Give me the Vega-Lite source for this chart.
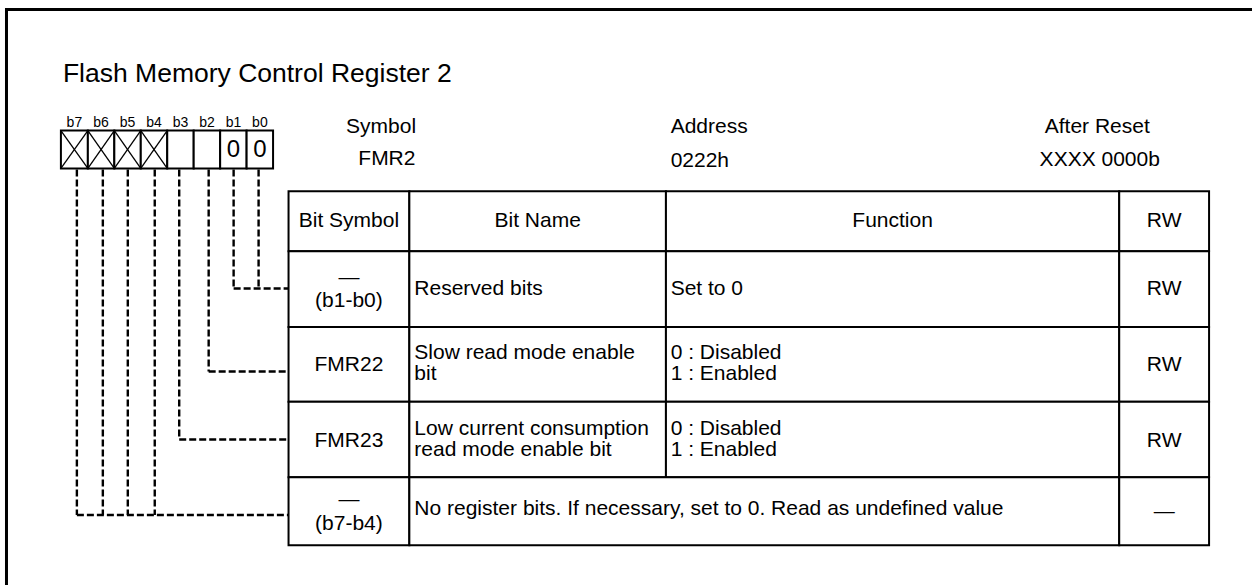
{
  "$schema": "https://vega.github.io/schema/vega-lite/v6.json",
  "autosize": {"type": "fit", "contains": "padding"},
  "width": 1254,
  "height": 587,
  "padding": 0,
  "background": "white",
  "config": {"view": {"stroke": null}, "text": {"font": "Liberation Sans", "color": "black"}},
  "datasets": {
    "frame": [
      {"x": 6.5, "y": 9.5, "x2": 1254, "y2": 9.5},
      {"x": 6.5, "y": 8, "x2": 6.5, "y2": 587}
    ],
    "cells": [
      {"x": 289, "x2": 410, "y": 192, "y2": 252},
      {"x": 410, "x2": 667, "y": 192, "y2": 252},
      {"x": 667, "x2": 1121, "y": 192, "y2": 252},
      {"x": 1121, "x2": 1211, "y": 192, "y2": 252},
      {"x": 289, "x2": 410, "y": 252, "y2": 328},
      {"x": 410, "x2": 667, "y": 252, "y2": 328},
      {"x": 667, "x2": 1121, "y": 252, "y2": 328},
      {"x": 1121, "x2": 1211, "y": 252, "y2": 328},
      {"x": 289, "x2": 410, "y": 328, "y2": 403},
      {"x": 410, "x2": 667, "y": 328, "y2": 403},
      {"x": 667, "x2": 1121, "y": 328, "y2": 403},
      {"x": 1121, "x2": 1211, "y": 328, "y2": 403},
      {"x": 289, "x2": 410, "y": 403, "y2": 479},
      {"x": 410, "x2": 667, "y": 403, "y2": 479},
      {"x": 667, "x2": 1121, "y": 403, "y2": 479},
      {"x": 1121, "x2": 1211, "y": 403, "y2": 479},
      {"x": 289, "x2": 410, "y": 479, "y2": 547},
      {"x": 410, "x2": 1121, "y": 479, "y2": 547},
      {"x": 1121, "x2": 1211, "y": 479, "y2": 547},
      {"x": 61, "x2": 88, "y": 131, "y2": 169},
      {"x": 88, "x2": 114.5, "y": 131, "y2": 169},
      {"x": 114.5, "x2": 141, "y": 131, "y2": 169},
      {"x": 141, "x2": 167.5, "y": 131, "y2": 169},
      {"x": 167.5, "x2": 194, "y": 131, "y2": 169},
      {"x": 194, "x2": 220.5, "y": 131, "y2": 169},
      {"x": 220.5, "x2": 247, "y": 131, "y2": 169},
      {"x": 247, "x2": 273.5, "y": 131, "y2": 169}
    ],
    "diagonals": [
      {"x": 61, "y": 131, "x2": 88, "y2": 169},
      {"x": 61, "y": 169, "x2": 88, "y2": 131},
      {"x": 88, "y": 131, "x2": 114.5, "y2": 169},
      {"x": 88, "y": 169, "x2": 114.5, "y2": 131},
      {"x": 114.5, "y": 131, "x2": 141, "y2": 169},
      {"x": 114.5, "y": 169, "x2": 141, "y2": 131},
      {"x": 141, "y": 131, "x2": 167.5, "y2": 169},
      {"x": 141, "y": 169, "x2": 167.5, "y2": 131}
    ],
    "dashes": [
      {"x": 259, "y": 170, "x2": 259, "y2": 289.5},
      {"x": 234, "y": 170, "x2": 234, "y2": 289.5},
      {"x": 234, "y": 289.5, "x2": 289, "y2": 289.5},
      {"x": 209, "y": 170, "x2": 209, "y2": 372.7},
      {"x": 209, "y": 372.7, "x2": 289, "y2": 372.7},
      {"x": 179.5, "y": 170, "x2": 179.5, "y2": 441},
      {"x": 179.5, "y": 441, "x2": 289, "y2": 441},
      {"x": 155, "y": 170, "x2": 155, "y2": 516.7},
      {"x": 128, "y": 170, "x2": 128, "y2": 516.7},
      {"x": 103, "y": 170, "x2": 103, "y2": 516.7},
      {"x": 77, "y": 170, "x2": 77, "y2": 516.7},
      {"x": 77, "y": 516.7, "x2": 289, "y2": 516.7}
    ],
    "textC": [
      {"x": 74.5, "y": 127, "t": "b7", "s": 14},
      {"x": 101.2, "y": 127, "t": "b6", "s": 14},
      {"x": 127.8, "y": 127, "t": "b5", "s": 14},
      {"x": 154.3, "y": 127, "t": "b4", "s": 14},
      {"x": 180.8, "y": 127, "t": "b3", "s": 14},
      {"x": 207.3, "y": 127, "t": "b2", "s": 14},
      {"x": 233.8, "y": 127, "t": "b1", "s": 14},
      {"x": 260.3, "y": 127, "t": "b0", "s": 14},
      {"x": 233.8, "y": 157.5, "t": "0", "s": 24},
      {"x": 260.3, "y": 157.5, "t": "0", "s": 24},
      {"x": 381.7, "y": 133.3, "t": "Symbol", "s": 21},
      {"x": 387.5, "y": 166, "t": "FMR2", "s": 21},
      {"x": 1099, "y": 133.3, "t": "After Reset", "s": 21},
      {"x": 1101.5, "y": 167, "t": "XXXX 0000b", "s": 21},
      {"x": 349.5, "y": 228, "t": "Bit Symbol", "s": 21},
      {"x": 538.5, "y": 228, "t": "Bit Name", "s": 21},
      {"x": 894, "y": 228, "t": "Function", "s": 21},
      {"x": 1166, "y": 228, "t": "RW", "s": 21},
      {"x": 349.5, "y": 285, "t": "—", "s": 21},
      {"x": 349.5, "y": 308.5, "t": "(b1-b0)", "s": 21},
      {"x": 1166, "y": 296, "t": "RW", "s": 21},
      {"x": 349.5, "y": 372, "t": "FMR22", "s": 21},
      {"x": 1166, "y": 372.5, "t": "RW", "s": 21},
      {"x": 349.5, "y": 448.5, "t": "FMR23", "s": 21},
      {"x": 1166, "y": 448.5, "t": "RW", "s": 21},
      {"x": 349.5, "y": 507.7, "t": "—", "s": 21},
      {"x": 349.5, "y": 531.5, "t": "(b7-b4)", "s": 21},
      {"x": 1166, "y": 519.4, "t": "—", "s": 21}
    ],
    "textL": [
      {"x": 63, "y": 82, "t": "Flash Memory Control Register 2", "s": 26.5},
      {"x": 671.7, "y": 133.3, "t": "Address", "s": 21},
      {"x": 671.7, "y": 167.5, "t": "0222h", "s": 21},
      {"x": 415, "y": 296, "t": "Reserved bits", "s": 21},
      {"x": 671.7, "y": 296.5, "t": "Set to 0", "s": 21},
      {"x": 415, "y": 360, "t": "Slow read mode enable", "s": 21},
      {"x": 415, "y": 381, "t": "bit", "s": 21},
      {"x": 671.7, "y": 360, "t": "0 : Disabled", "s": 21},
      {"x": 671.7, "y": 381, "t": "1 : Enabled", "s": 21},
      {"x": 415, "y": 436.5, "t": "Low current consumption", "s": 21},
      {"x": 415, "y": 457.5, "t": "read mode enable bit", "s": 21},
      {"x": 671.7, "y": 436.5, "t": "0 : Disabled", "s": 21},
      {"x": 671.7, "y": 457.5, "t": "1 : Enabled", "s": 21},
      {"x": 415, "y": 517, "t": "No register bits. If necessary, set to 0. Read as undefined value", "s": 21}
    ]
  },
  "encoding": {
    "x": {"field": "x", "type": "quantitative", "scale": {"domain": [0, 1254], "nice": false, "zero": false}, "axis": null},
    "y": {"field": "y", "type": "quantitative", "scale": {"domain": [0, 587], "nice": false, "zero": false, "reverse": true}, "axis": null}
  },
  "layer": [
    {
      "data": {"name": "frame"},
      "mark": {"type": "rule", "color": "black", "strokeWidth": 3},
      "encoding": {"x2": {"field": "x2"}, "y2": {"field": "y2"}}
    },
    {
      "data": {"name": "cells"},
      "mark": {"type": "rect", "fill": "white", "stroke": "black", "strokeWidth": 2},
      "encoding": {"x2": {"field": "x2"}, "y2": {"field": "y2"}}
    },
    {
      "data": {"name": "diagonals"},
      "mark": {"type": "rule", "color": "black", "strokeWidth": 1.3},
      "encoding": {"x2": {"field": "x2"}, "y2": {"field": "y2"}}
    },
    {
      "data": {"name": "dashes"},
      "mark": {"type": "rule", "color": "black", "strokeWidth": 2.4, "strokeDash": [7, 3]},
      "encoding": {"x2": {"field": "x2"}, "y2": {"field": "y2"}}
    },
    {
      "data": {"name": "textC"},
      "mark": {"type": "text", "align": "center", "baseline": "alphabetic"},
      "encoding": {
        "text": {"field": "t", "type": "nominal"},
        "size": {"field": "s", "type": "quantitative", "scale": null}
      }
    },
    {
      "data": {"name": "textL"},
      "mark": {"type": "text", "align": "left", "baseline": "alphabetic"},
      "encoding": {
        "text": {"field": "t", "type": "nominal"},
        "size": {"field": "s", "type": "quantitative", "scale": null}
      }
    }
  ]
}
